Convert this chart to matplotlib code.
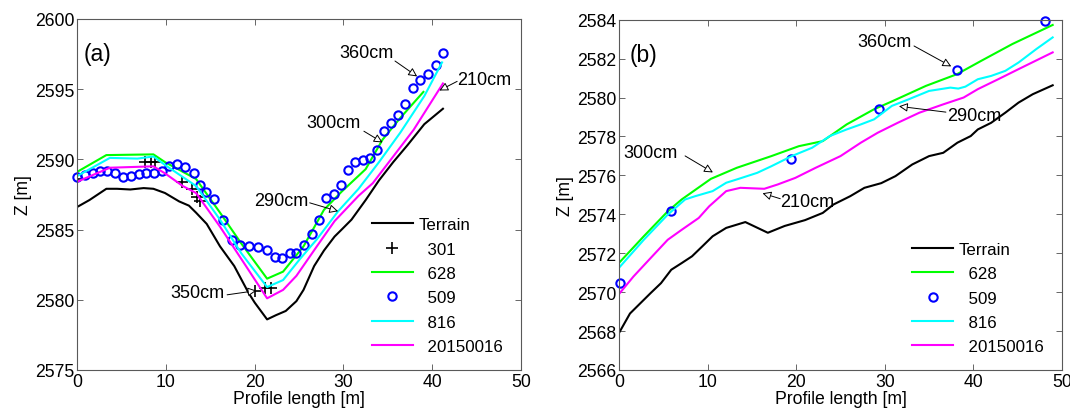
import numpy as np
import matplotlib
matplotlib.use('Agg')
import matplotlib.pyplot as plt

plt.rcParams['font.family'] = ['Liberation Sans', 'DejaVu Sans']
plt.rcParams['font.size'] = 12.7

# ----------------------------------------------------
# panel (a) profile
# ----------------------------------------------------
a_terrain_x = [0, 1.4, 3.3, 4.5, 6.0, 7.5, 8.6, 9.9, 11.5, 12.6, 13.4, 14.6, 16.1, 17.7,
               19.3, 20.0, 21.4, 22.4, 23.5, 24.7, 25.5, 26.7, 27.8, 29.0, 29.8, 30.9,
               32.5, 34.0, 35.6, 37.2, 39.1, 41.2]
a_terrain_z = [2586.6, 2587.1, 2587.9, 2587.9, 2587.85, 2587.95, 2587.9, 2587.6, 2587.0,
               2586.7, 2586.2, 2585.4, 2583.8, 2582.4, 2580.5, 2579.8, 2578.6, 2578.9,
               2579.2, 2579.9, 2580.7, 2582.4, 2583.5, 2584.5, 2585.0, 2585.7, 2587.1,
               2588.5, 2589.8, 2591.0, 2592.5, 2593.6]

a_628_x = [0, 3.3, 8.6, 9.9, 13.4, 16.1, 18.5, 21.4, 23.2, 25.5, 27.8, 29.8, 32.5, 34.4,
           36.4, 39.0]
a_628_z = [2589.1, 2590.3, 2590.35, 2589.8, 2588.6, 2586.2, 2584.0, 2581.5, 2582.0,
           2583.8, 2586.4, 2587.7, 2589.3, 2591.4, 2592.95, 2594.8]

a_816_x = [0, 3.7, 6.8, 8.6, 9.9, 13.4, 16.1, 18.5, 21.4, 23.2, 25.1, 27.0, 29.4, 31.7,
           34.0, 36.4, 39.1, 41.1]
a_816_z = [2588.8, 2590.1, 2590.05, 2590.2, 2589.6, 2588.1, 2585.7, 2583.3, 2580.9,
           2581.4, 2582.9, 2584.3, 2586.3, 2587.9, 2589.8, 2591.9, 2594.5, 2596.9]

a_2015_x = [0, 3.7, 8.6, 9.9, 11.9, 13.4, 16.1, 18.5, 21.4, 23.2, 24.7, 27.0, 29.0, 31.7,
            33.3, 35.6, 37.9, 41.2]
a_2015_z = [2588.4, 2589.4, 2589.5, 2589.0, 2588.1, 2587.6, 2585.2, 2582.9, 2580.1,
            2580.7, 2581.7, 2583.8, 2585.6, 2587.4, 2588.3, 2590.2, 2592.1, 2595.4]

a_509_x = [0.0, 0.89, 1.75, 2.61, 3.39, 4.28, 5.18, 6.03, 6.93, 7.78, 8.68, 9.53, 10.31,
           11.21, 12.18, 13.15, 13.81, 14.47, 15.37, 16.46, 17.43, 18.40, 19.38, 20.35,
           21.40, 22.26, 23.07, 23.93, 24.71, 25.56, 26.46, 27.24, 28.02, 28.91, 29.77,
           30.54, 31.32, 32.18, 33.0, 33.77, 34.55, 35.33, 36.11, 36.96, 37.82, 38.64,
           39.49, 40.39, 41.25]
a_509_z = [2588.76, 2588.88, 2589.0, 2589.19, 2589.17, 2589.05, 2588.76, 2588.81, 2588.95,
           2589.0, 2589.05, 2589.19, 2589.52, 2589.64, 2589.45, 2589.0, 2588.14, 2587.67,
           2587.14, 2585.67, 2584.24, 2583.93, 2583.86, 2583.76, 2583.57, 2583.05, 2582.98,
           2583.33, 2583.33, 2583.93, 2584.71, 2585.67, 2587.21, 2587.5, 2588.14, 2589.24,
           2589.83, 2589.98, 2590.07, 2590.69, 2591.98, 2592.62, 2593.14, 2593.93, 2595.05,
           2595.67, 2596.07, 2596.74, 2597.55]

a_301_x = [0, 7.6, 8.3, 8.8, 11.8, 12.9, 13.5, 13.9, 20.0, 21.2, 21.8]
a_301_z = [2588.6, 2589.8, 2589.8, 2589.8, 2588.4, 2587.9, 2587.3, 2587.0, 2580.6,
           2580.8, 2580.8]

# label, text pos, arrow tail, arrow head
a_notes = [('360cm', (32.6, 2597.6), (35.8, 2597.0), (38.3, 2595.9)),
           ('210cm', (45.8, 2595.7), (42.8, 2595.55), (40.8, 2594.9)),
           ('300cm', (28.9, 2592.6), (32.3, 2592.0), (34.4, 2591.2)),
           ('290cm', (23.0, 2587.1), (26.2, 2586.9), (29.4, 2586.3)),
           ('350cm', (13.6, 2580.5), (16.9, 2580.35), (20.2, 2580.65))]

# ----------------------------------------------------
# panel (b) profile
# ----------------------------------------------------
b_terrain_x = [0, 1.24, 3.57, 4.74, 5.9, 7.07, 8.24, 9.4, 10.57, 12.1, 14.26, 16.8, 18.7,
               21.0, 23.0, 24.2, 26.1, 27.7, 29.6, 31.2, 33.1, 35.0, 36.6, 38.2, 39.7,
               40.5, 42.0, 43.6, 45.1, 46.7, 48.95]
b_terrain_z = [2567.9, 2568.9, 2569.95, 2570.46, 2571.15, 2571.49, 2571.84, 2572.35,
               2572.87, 2573.3, 2573.6, 2573.05, 2573.4, 2573.7, 2574.07, 2574.5, 2574.93,
               2575.36, 2575.6, 2575.96, 2576.56, 2576.99, 2577.16, 2577.68, 2578.02,
               2578.36, 2578.7, 2579.22, 2579.74, 2580.17, 2580.63]

b_628_x = [0, 2.8, 5.5, 7.07, 10.37, 13.3, 17.2, 20.3, 23.0, 25.7, 28.8, 30.8, 34.65,
           38.15, 40.9, 44.4, 48.95]
b_628_z = [2571.5, 2572.87, 2574.15, 2574.76, 2575.82, 2576.39, 2576.99, 2577.5, 2577.76,
           2578.62, 2579.4, 2579.8, 2580.6, 2581.2, 2581.89, 2582.75, 2583.73]

b_816_x = [0, 2.8, 5.5, 7.46, 8.6, 10.57, 12.1, 13.3, 15.6, 17.2, 19.5, 21.8, 23.8, 25.7,
           27.3, 28.8, 30.8, 32.7, 35.0, 37.4, 38.3, 39.1, 40.5, 42.0, 43.6, 45.1, 47.1,
           48.95]
b_816_z = [2571.25, 2572.69, 2573.98, 2574.76, 2574.93, 2575.19, 2575.62, 2575.79,
           2576.13, 2576.47, 2576.99, 2577.42, 2578.02, 2578.36, 2578.62, 2578.88,
           2579.57, 2579.91, 2580.34, 2580.51, 2580.46, 2580.56, 2580.94, 2581.11,
           2581.37, 2581.8, 2582.49, 2583.09]

b_2015_x = [0, 1.63, 3.57, 5.5, 7.07, 9.0, 10.18, 12.1, 13.7, 16.4, 17.9, 19.9, 22.2,
            25.0, 27.3, 29.2, 31.5, 33.9, 36.6, 38.9, 40.5, 42.8, 45.1, 48.95]
b_2015_z = [2569.9, 2570.8, 2571.75, 2572.69, 2573.2, 2573.81, 2574.41, 2575.19, 2575.36,
            2575.31, 2575.53, 2575.87, 2576.39, 2576.99, 2577.68, 2578.19, 2578.71,
            2579.22, 2579.65, 2580.0, 2580.43, 2580.94, 2581.46, 2582.32]

b_509_x = [0.08, 5.83, 19.4, 29.3, 38.1, 48.06]
b_509_z = [2570.46, 2574.15, 2576.82, 2579.4, 2581.41, 2583.91]

b_notes = [('360cm', (29.95, 2582.9), (33.3, 2582.65), (37.5, 2581.6)),
           ('290cm', (40.1, 2579.1), (36.9, 2579.25), (31.6, 2579.55)),
           ('300cm', (3.6, 2577.2), (7.46, 2577.0), (10.6, 2576.15)),
           ('210cm', (21.2, 2574.65), (18.2, 2574.8), (16.2, 2575.08))]


def style_axes(ax, ylim, yticks, tag, tagx):
    ax.set_xlim(0, 50)
    ax.set_ylim(*ylim)
    ax.set_xticks(np.arange(0, 51, 10))
    ax.set_yticks(yticks)
    ax.tick_params(direction='in', top=True, right=True, length=4.5, width=0.6,
                   color='0.3', pad=2, labelsize=12.7)
    for s in ax.spines.values():
        s.set_color('0.35')
        s.set_linewidth(0.8)
    ax.set_xlabel('Profile length [m]', labelpad=0)
    ax.set_ylabel('Z [m]', labelpad=2)
    ax.text(tagx, 0.90, tag, transform=ax.transAxes, fontsize=16.5, va='center', ha='left')


def add_notes(ax, notes):
    for label, txt, tail, head in notes:
        ax.text(txt[0], txt[1], label, ha='center', va='center', fontsize=13)
        ax.annotate('', xy=head, xytext=tail,
                    arrowprops=dict(arrowstyle='-|>', fc='white', ec='black', lw=0.7,
                                    mutation_scale=13, shrinkA=0, shrinkB=0))


legend_kw = dict(loc='upper left', frameon=False, borderpad=0, borderaxespad=0,
                 handlelength=2.4, handletextpad=0.33, labelspacing=0.55, fontsize=12.2)

my_dpi = 100
fig = plt.figure(figsize=(1070/my_dpi, 414/my_dpi), dpi=my_dpi)
ax1 = fig.add_axes([0.072, 0.104, 0.415, 0.848])
ax2 = fig.add_axes([0.5785, 0.104, 0.414, 0.846])

lw = 1.5
ax1.plot(a_terrain_x, a_terrain_z, color='black', lw=lw, label='Terrain')
ax1.plot(a_301_x, a_301_z, ls='none', marker='+', ms=9, mew=1.2, color='black', label='  301')
ax1.plot(a_628_x, a_628_z, color='#00ff00', lw=lw, label='  628')
ax1.plot(a_509_x, a_509_z, ls='none', marker='o', ms=6, mew=1.5, mfc='none', color='#0000ff',
         label='  509', clip_on=False)
ax1.plot(a_816_x, a_816_z, color='#00ffff', lw=lw, label='  816')
ax1.plot(a_2015_x, a_2015_z, color='#ff00ff', lw=lw, label='  20150016')
style_axes(ax1, (2575, 2600), np.arange(2575, 2601, 5), '(a)', 0.014)
add_notes(ax1, a_notes)
ax1.legend(bbox_to_anchor=(0.664, 0.435), **legend_kw)

ax2.plot(b_terrain_x, b_terrain_z, color='black', lw=lw, label='Terrain')
ax2.plot(b_628_x, b_628_z, color='#00ff00', lw=lw, label='  628')
ax2.plot(b_509_x, b_509_z, ls='none', marker='o', ms=6, mew=1.5, mfc='none', color='#0000ff',
         label='  509', clip_on=False)
ax2.plot(b_816_x, b_816_z, color='#00ffff', lw=lw, label='  816')
ax2.plot(b_2015_x, b_2015_z, color='#ff00ff', lw=lw, label='  20150016')
style_axes(ax2, (2566, 2584), np.arange(2566, 2585, 2), '(b)', 0.025)
add_notes(ax2, b_notes)
ax2.legend(bbox_to_anchor=(0.662, 0.365), **legend_kw)

fig.savefig('out.png', dpi=my_dpi)
